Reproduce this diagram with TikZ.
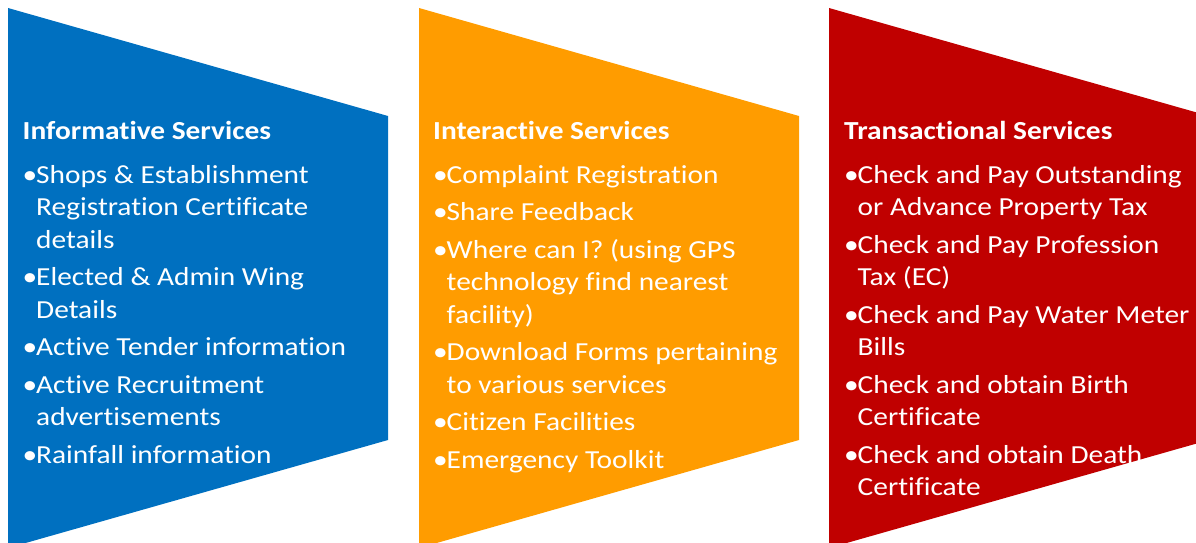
\documentclass[tikz,border=0pt]{standalone}
\usepackage{fontspec}
\setmainfont{Carlito}[FakeStretch=1.13,Ligatures=NoCommon]
\definecolor{infoblue}{HTML}{0070C0}
\definecolor{interorange}{HTML}{FF9C00}
\definecolor{transred}{HTML}{C00000}
\newcommand{\bul}{\makebox[13.5pt][l]{•}}
\newcommand{\ind}{\hspace*{13.5pt}}
\begin{document}
\begin{tikzpicture}[x=1pt,y=-1pt,
  chev/.style={fill=#1,draw=none},
  col/.style={text=white,font=\fontsize{26}{32.5}\selectfont,anchor=north west,inner sep=0pt,align=left}]
\useasboundingbox (0,0) rectangle (1196,543);
\clip (0,0) rectangle (1196,543);
\fill[chev=infoblue] (8,8) -- (388,116) -- (388,440) -- (8,548) -- cycle;
\fill[chev=interorange] (419,8) -- (799,116) -- (799,440) -- (419,548) -- cycle;
\fill[chev=transred] (829,8) -- (1209,116) -- (1209,440) -- (829,548) -- cycle;
\node[col] (info) at (22.5,116.25) {\strut\textbf{Informative Services}\\[11.5pt]
\bul Shops \& Establishment\\
\ind Registration Certificate\\
\ind details\\[5pt]
\bul Elected \& Admin Wing\\
\ind Details\\[5pt]
\bul Active Tender information\\[5pt]
\bul Active Recruitment\\
\ind advertisements\\[5pt]
\bul Rainfall information};
\node[col] (inter) at (433,116.25) {\strut\textbf{Interactive Services}\\[11.5pt]
\bul Complaint Registration\\[5pt]
\bul Share Feedback\\[5pt]
\bul Where can I? (using GPS\\
\ind technology find nearest\\
\ind facility)\\[5pt]
\bul Download Forms pertaining\\
\ind to various services\\[5pt]
\bul Citizen Facilities\\[5pt]
\bul Emergency Toolkit};
\node[col] (trans) at (844,116.25) {\strut\textbf{Transactional Services}\\[11.5pt]
\bul Check and Pay Outstanding\\
\ind or Advance Property Tax\\[5pt]
\bul Check and Pay Profession\\
\ind Tax (EC)\\[5pt]
\bul Check and Pay Water Meter\\
\ind Bills\\[5pt]
\bul Check and obtain Birth\\
\ind Certificate\\[5pt]
\bul Check and obtain Death\\
\ind Certificate};
\end{tikzpicture}
\end{document}
